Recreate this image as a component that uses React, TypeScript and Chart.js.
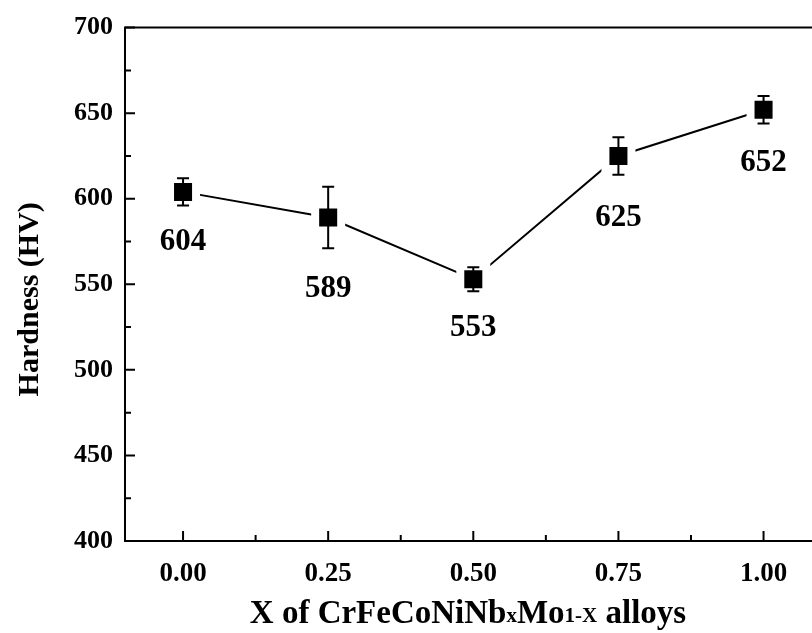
import React, { useEffect, useRef } from 'react';
import { Chart, registerables } from 'chart.js';

Chart.register(...registerables);

const xValues = [0, 0.25, 0.5, 0.75, 1.0];
const hardness = [604, 589, 553, 625, 652];
const errors = [8, 18, 7, 11, 8];
const pointLabels = ['604', '589', '553', '625', '652'];
// value (in HV units) at which each annotation label is centred
const labelAt = [574.5, 547.5, 524.5, 589, 621];
const xTicks = [0, 0.25, 0.5, 0.75, 1.0];
const xMinorTicks = [0.125, 0.375, 0.625, 0.875];
const yTicks = [400, 450, 500, 550, 600, 650, 700];
const yMinorTicks = [425, 475, 525, 575, 625, 675];
const yTitle = 'Hardness (HV)';

const FONT = "'Liberation Serif', 'Times New Roman', serif";

const framePlugin = {
  id: 'frameAndExtras',
  afterDatasetsDraw(chart: any) {
    const { ctx, chartArea, scales } = chart;
    const xs = scales.x;
    const ys = scales.y;
    const { left, right, top, bottom } = chartArea;
    ctx.save();
    ctx.strokeStyle = '#000';
    ctx.fillStyle = '#000';

    // error bars
    ctx.lineWidth = 2;
    hardness.forEach((v, i) => {
      const x = xs.getPixelForValue(xValues[i]);
      const yt = ys.getPixelForValue(v + errors[i]);
      const yb = ys.getPixelForValue(v - errors[i]);
      ctx.beginPath();
      ctx.moveTo(x, yt);
      ctx.lineTo(x, yb);
      ctx.moveTo(x - 6, yt);
      ctx.lineTo(x + 6, yt);
      ctx.moveTo(x - 6, yb);
      ctx.lineTo(x + 6, yb);
      ctx.stroke();
    });

    // frame
    ctx.lineWidth = 2;
    ctx.beginPath();
    ctx.moveTo(right, top);
    ctx.lineTo(left, top);
    ctx.lineTo(left, bottom);
    ctx.lineTo(right, bottom);
    ctx.stroke();

    // inward ticks
    ctx.lineWidth = 2;
    ctx.beginPath();
    yTicks.forEach((v) => {
      const y = ys.getPixelForValue(v);
      ctx.moveTo(left, y);
      ctx.lineTo(left + 10, y);
    });
    yMinorTicks.forEach((v) => {
      const y = ys.getPixelForValue(v);
      ctx.moveTo(left, y);
      ctx.lineTo(left + 6, y);
    });
    xTicks.forEach((v) => {
      const x = xs.getPixelForValue(v);
      ctx.moveTo(x, bottom);
      ctx.lineTo(x, bottom - 10);
    });
    xMinorTicks.forEach((v) => {
      const x = xs.getPixelForValue(v);
      ctx.moveTo(x, bottom);
      ctx.lineTo(x, bottom - 6);
    });
    ctx.stroke();

    // point annotations
    ctx.font = `bold 31px ${FONT}`;
    ctx.textAlign = 'center';
    ctx.textBaseline = 'middle';
    pointLabels.forEach((t, i) => {
      ctx.fillText(t, xs.getPixelForValue(xValues[i]), ys.getPixelForValue(labelAt[i]));
    });

    // y title
    ctx.save();
    ctx.translate(30, (top + bottom) / 2 + 15);
    ctx.rotate(-Math.PI / 2);
    ctx.font = `bold 30px ${FONT}`;
    ctx.fillText(yTitle, 0, 0);
    ctx.restore();

    // x title with subscripts
    const parts: [string, boolean][] = [
      ['X of CrFeCoNiNb', false],
      ['x', true],
      ['Mo', false],
      ['1-X', true],
      [' alloys', false],
    ];
    const mainFont = `bold 33px ${FONT}`;
    const subFont = `bold 21px ${FONT}`;
    let total = 0;
    parts.forEach(([t, s]) => {
      ctx.font = s ? subFont : mainFont;
      total += ctx.measureText(t).width;
    });
    const cx = 468;
    const baseY = 623;
    let x = cx - total / 2;
    ctx.textAlign = 'left';
    ctx.textBaseline = 'alphabetic';
    parts.forEach(([t, s]) => {
      ctx.font = s ? subFont : mainFont;
      ctx.fillText(t, x, s ? baseY - 1 : baseY);
      x += ctx.measureText(t).width;
    });

    ctx.restore();
  },
};

export default function App() {
  const ref = useRef<HTMLCanvasElement | null>(null);
  useEffect(() => {
    if (!ref.current) return;
    const chart = new Chart(ref.current, {
      type: 'line',
      data: {
        datasets: [
          {
            data: xValues.map((x, i) => ({ x, y: hardness[i] })),
            borderColor: '#000',
            borderWidth: 2,
            backgroundColor: '#000',
            pointStyle: 'rect',
            pointRadius: 18.4,
            pointBackgroundColor: '#000',
            pointBorderColor: '#fff',
            pointBorderWidth: 8,
            tension: 0,
          },
        ],
      },
      options: {
        responsive: false,
        animation: false,
        devicePixelRatio: 1,
        events: [],
        layout: { padding: { top: 24, right: 0, left: 0, bottom: 0 } },
        plugins: { legend: { display: false }, tooltip: { enabled: false } },
        scales: {
          x: {
            type: 'linear',
            min: -0.1,
            max: 1.1,
            grid: { display: false, drawTicks: false },
            border: { display: false },
            afterBuildTicks: (s: any) => {
              s.ticks = xTicks.map((v) => ({ value: v }));
            },
            afterFit: (s: any) => {
              s.height = 92;
            },
            ticks: {
              color: '#000',
              padding: 17,
              maxRotation: 0,
              autoSkip: false,
              font: { family: FONT, size: 27, weight: 'bold' },
              callback: (v: any) => Number(v).toFixed(2),
            },
          },
          y: {
            type: 'linear',
            min: 400,
            max: 700,
            grid: { display: false, drawTicks: false },
            border: { display: false },
            afterBuildTicks: (s: any) => {
              s.ticks = yTicks.map((v) => ({ value: v }));
            },
            afterFit: (s: any) => {
              s.width = 125;
            },
            ticks: {
              color: '#000',
              padding: 12,
              autoSkip: false,
              font: { family: FONT, size: 26, weight: 'bold' },
              callback: (v: any) => String(v),
            },
          },
        },
      },
      plugins: [framePlugin],
    } as any);
    return () => chart.destroy();
  }, []);
  return (
    <div style={{ position: 'fixed', left: 0, top: 0, width: 812, height: 633, overflow: 'hidden', background: '#fff' }}>
      <canvas ref={ref} width={848} height={633} style={{ width: 848, height: 633, display: 'block' }} />
    </div>
  );
}
